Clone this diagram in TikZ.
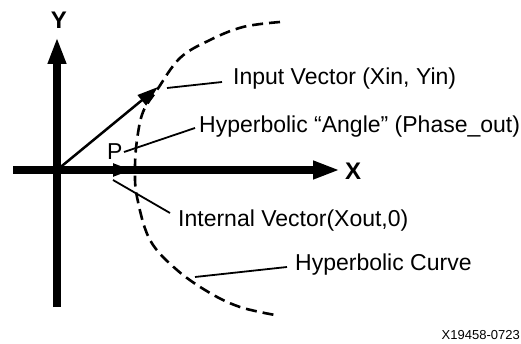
\documentclass[tikz,border=0pt]{standalone}
\usepackage{fontspec}
\setmainfont{Liberation Sans}
\usetikzlibrary{arrows.meta}
\begin{document}
\begin{tikzpicture}[x=1pt,y=-1pt,
  axis/.style={line width=7.5pt,-{Triangle[length=27pt,width=17pt]}},
  vec/.style={line width=2.5pt,-{Triangle[length=21pt,width=13pt]}},
  leader/.style={line width=1.8pt},
  curve/.style={line width=2.6pt,dash pattern=on 11pt off 6pt},
  lbl/.style={anchor=base west,inner sep=0pt,font=\fontsize{23}{25}\selectfont},
  axlbl/.style={anchor=base,inner sep=0pt,font=\fontsize{24}{26}\selectfont\bfseries},
  tag/.style={anchor=base east,inner sep=0pt,font=\fontsize{13}{14}\selectfont}]
\useasboundingbox (0,0) rectangle (521,344);
% coordinates
\coordinate (O) at (57,170);
\coordinate (xs) at (13,170);
\coordinate (xe) at (340,170);
\coordinate (ys) at (57,307);
\coordinate (ye) at (57,37);
\coordinate (vin) at (158,87);
\coordinate (vout) at (131,170);
% hyperbolic curve
\draw[curve] plot[smooth,tension=0.6] coordinates {(280,22) (243,27) (210,40) (180,58) (157,90) (143,112) (137,140) (135,168) (137,197) (150,240) (177,270) (210,293) (240,307) (275,315)};
% axes
\draw[axis] (xs) -- (xe);
\draw[axis] (ys) -- (ye);
% vectors
\draw[vec] (O) -- (vin);
\draw[line width=2.5pt,-{Triangle[length=18pt,width=13pt]}] (O) -- (vout);
% labels
\node[axlbl] (Y) at (59,29) {Y};
\node[axlbl] (X) at (353,180) {X};
\node[lbl] (P) at (107,160) {P};
\node[lbl] (tin) at (233,85) {Input Vector (Xin, Yin)};
\node[lbl] (tang) at (199,133) {Hyperbolic “Angle” (Phase\_out)};
\node[lbl] (tint) at (178,227) {Internal Vector(Xout,0)};
\node[lbl] (tcur) at (295,270) {Hyperbolic Curve};
\node[tag] (id) at (520,339) {X19458-0723};
% leaders
\coordinate (a1) at (167,88);
\coordinate (a2) at (222,82);
\coordinate (b1) at (124,152);
\coordinate (b2) at (195,128);
\coordinate (c1) at (113,180);
\coordinate (c2) at (170,213);
\coordinate (d1) at (195,277);
\coordinate (d2) at (287,267);
\draw[leader] (a1) -- (a2);
\draw[leader] (b1) -- (b2);
\draw[leader] (c1) -- (c2);
\draw[leader] (d1) -- (d2);
\end{tikzpicture}
\end{document}
